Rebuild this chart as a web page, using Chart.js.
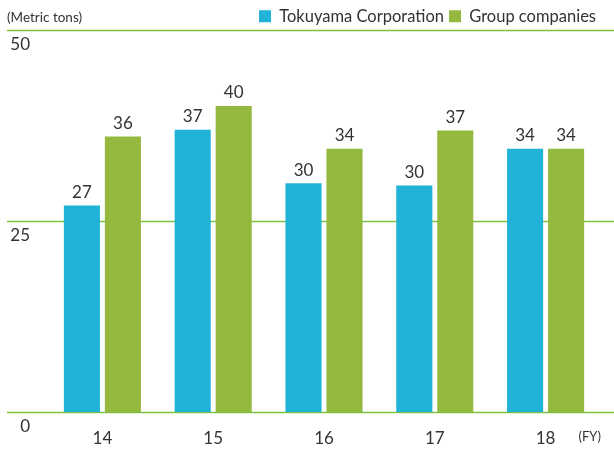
<!DOCTYPE html>
<html>
<head>
<meta charset="utf-8">
<script src="https://cdn.jsdelivr.net/npm/chart.js@4/dist/chart.umd.min.js"></script>
<style>
  html, body { margin: 0; padding: 0; background: #fff; }
  #wrap { width: 614px; height: 451px; }
</style>
</head>
<body>
<div id="wrap"><canvas id="chart"></canvas></div>
<script>
const years = ['14', '15', '16', '17', '18'];
const tokuyama = [27, 36.9, 29.9, 29.6, 34.4];
const groupCos = [36, 40, 34.4, 36.8, 34.4];
const yTicks = [0, 25, 50];

const textColor = '#333333';
const lineColor = '#7cc142';

// full-width green rules at each y tick
const rules = {
  id: 'rules',
  beforeDatasetsDraw(chart) {
    const ctx = chart.ctx, y = chart.scales.y;
    ctx.save();
    ctx.strokeStyle = lineColor;
    ctx.lineWidth = 1.5;
    yTicks.forEach(v => {
      const py = Math.round(y.getPixelForValue(v)) + 0.5;
      ctx.beginPath();
      ctx.moveTo(7, py);
      ctx.lineTo(chart.width, py);
      ctx.stroke();
    });
    ctx.restore();
  }
};

// legend box a bit shorter so the plot starts right under it
const tightLegend = {
  id: 'tightLegend',
  beforeLayout(chart) {
    const lg = chart.legend;
    if (!lg || lg._tight) return;
    const fit = lg.fit;
    lg.fit = function() {
      fit.call(this);
      this.height -= 5;
    };
    lg._tight = true;
  }
};

// value labels over bars, plus unit texts
const extras = {
  id: 'extras',
  afterDatasetsDraw(chart) {
    const ctx = chart.ctx;
    ctx.save();
    ctx.fillStyle = textColor;
    ctx.font = '17px Lato';
    ctx.textAlign = 'center';
    ctx.textBaseline = 'middle';
    chart.data.datasets.forEach((ds, i) => {
      chart.getDatasetMeta(i).data.forEach((bar, j) => {
        ctx.fillText(Math.round(ds.data[j]), bar.x, bar.y - 13);
      });
    });
    ctx.font = '13.5px Lato';
    ctx.textAlign = 'left';
    ctx.fillText('(Metric tons)', 7, 18);
    ctx.font = '13px Lato';
    ctx.textAlign = 'right';
    ctx.fillText('(FY)', chart.chartArea.right, 437);
    ctx.restore();
  }
};

new Chart(document.getElementById('chart'), {
  type: 'bar',
  data: {
    labels: years,
    datasets: [
      { label: 'Tokuyama Corporation', data: tokuyama, backgroundColor: '#21b2d7' },
      { label: 'Group companies', data: groupCos, backgroundColor: '#95b93f' }
    ]
  },
  options: {
    responsive: true,
    maintainAspectRatio: false,
    animation: false,
    categoryPercentage: 0.74,
    barPercentage: 0.88,
    layout: { padding: { top: 3, right: 13, bottom: 2, left: 0 } },
    plugins: {
      legend: {
        position: 'top',
        align: 'end',
        labels: {
          color: textColor,
          font: { size: 16.5, family: 'Lato' },
          boxWidth: 12,
          boxHeight: 12,
          padding: 5
        }
      },
      tooltip: { enabled: false }
    },
    scales: {
      x: {
        afterFit(scale) { scale.height = 37; },
        grid: { display: false, drawTicks: false },
        border: { display: false },
        ticks: { color: textColor, font: { size: 17, family: 'Lato' }, padding: 16 }
      },
      y: {
        min: 0,
        max: 50,
        afterBuildTicks(scale) { scale.ticks = yTicks.map(v => ({ value: v })); },
        afterFit(scale) { scale.width = 47; },
        grid: { display: false, drawTicks: false },
        border: { display: false },
        ticks: {
          color: textColor,
          font: { size: 17, family: 'Lato' },
          padding: 17,
          labelOffset: 15
        }
      }
    }
  },
  plugins: [rules, tightLegend, extras]
});
</script>
</body>
</html>
